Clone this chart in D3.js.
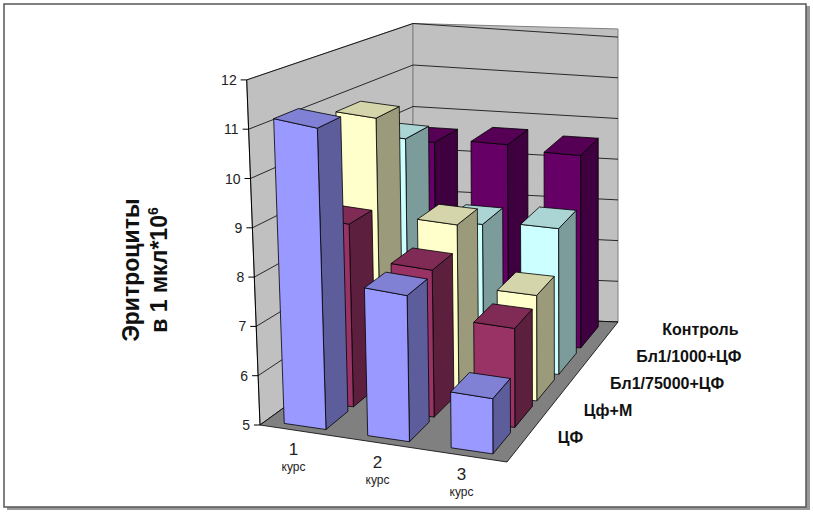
<!DOCTYPE html>
<html><head><meta charset="utf-8">
<script src="https://cdn.jsdelivr.net/npm/d3@7"></script>
<style>body{margin:0;background:#fff}svg{font-family:Arial,"Liberation Sans",sans-serif}</style>
</head><body><svg id="chart" width="813" height="513"></svg>
<script>
const categories = ['1', '2', '3']
const series = ['ЦФ', 'Цф+М', 'Бл1/75000+ЦФ', 'Бл1/1000+ЦФ', 'Контроль']
const colors = ['#9999FF', '#993366', '#FFFFCC', '#CCFFFF', '#660066']
const values = [
  [11.25, 8.1, 6.2],
  [8.9, 8.2, 7.2],
  [10.85, 8.75, 7.4],
  [10.05, 8.3, 8.4],
  [9.6, 9.7, 9.6]
]
const ticks = [5, 6, 7, 8, 9, 10, 11, 12]

const svg = d3.select('#chart')

// floor corners and vertical scale per unit at each corner
const FL = [260, 425], FR = [507, 462], BR = [618, 322], BL = [413, 314]
const hFL = 49.3, hFR = 46, hBR = 40.7, hBL = 41.5
const leanFL = -1.9

const yVal = d3.scaleLinear().domain([5, 12]).range([0, 7])
const uScale = d3.scaleBand().domain(categories).range([0, 1]).paddingInner(0.5).paddingOuter(0.22).align(0.5)
const vScale = d3.scaleBand().domain(series).range([0, 1]).padding(0.2)

function bil (a, b, c, d, u, v) {
  return (1 - u) * (1 - v) * a + u * (1 - v) * b + u * v * c + (1 - u) * v * d
}
function proj (u, v, val) {
  const bx = bil(FL[0], FR[0], BR[0], BL[0], u, v)
  const by = bil(FL[1], FR[1], BR[1], BL[1], u, v)
  const h = bil(hFL, hFR, hBR, hBL, u, v)
  const lean = bil(leanFL, 0, 0, 0, u, v)
  const t = yVal(val)
  return [bx + lean * t, by - h * t]
}
const poly = pts => pts.map(p => p.join(',')).join(' ')

// frame
svg.append('rect').attr('x', 7).attr('y', 6).attr('width', 803).attr('height', 504).attr('fill', '#999')
svg.append('rect').attr('x', 4).attr('y', 4).attr('width', 802).attr('height', 503)
  .attr('fill', '#fff').attr('stroke', '#555').attr('stroke-width', 1.5)

// walls
svg.append('polygon').attr('points', poly([proj(0, 0, 5), proj(0, 1, 5), proj(0, 1, 12), proj(0, 0, 12)]))
  .attr('fill', '#C0C0C0').attr('stroke', '#808080')
svg.append('polygon').attr('points', poly([proj(0, 1, 5), proj(1, 1, 5), proj(1, 1, 12.2), proj(0, 1, 12)]))
  .attr('fill', '#C0C0C0').attr('stroke', '#808080')
ticks.forEach(t => {
  svg.append('polyline').attr('points', poly([proj(0, 0, t), proj(0, 1, t), proj(1, 1, t)]))
    .attr('fill', 'none').attr('stroke', '#000').attr('stroke-width', 0.8)
  const p = proj(0, 0, t)
  svg.append('line').attr('x1', p[0] - 6).attr('y1', p[1]).attr('x2', p[0]).attr('y2', p[1]).attr('stroke', '#000')
  svg.append('text').attr('x', p[0] - 10).attr('y', p[1] + 5).attr('text-anchor', 'end')
    .attr('font-size', 14).attr('fill', '#222').text(t)
})
svg.append('line').attr('x1', proj(0, 0, 5)[0]).attr('y1', proj(0, 0, 5)[1])
  .attr('x2', proj(0, 0, 12)[0]).attr('y2', proj(0, 0, 12)[1]).attr('stroke', '#000')

// floor
svg.append('polygon').attr('points', poly([proj(0, 0, 5), proj(1, 0, 5), proj(1, 1, 5), proj(0, 1, 5)]))
  .attr('fill', '#808080').attr('stroke', '#000').attr('stroke-width', 0.8)

// bars, back to front
for (let j = series.length - 1; j >= 0; j--) {
  const v0 = vScale(series[j]), v1 = v0 + vScale.bandwidth()
  const base = d3.color(colors[j])
  categories.forEach((c, i) => {
    const u0 = uScale(c), u1 = u0 + uScale.bandwidth()
    const val = values[j][i]
    const g = svg.append('g').attr('stroke', '#000').attr('stroke-width', 0.8).attr('stroke-linejoin', 'round')
    g.append('polygon').attr('points', poly([proj(u1, v0, 5), proj(u1, v1, 5), proj(u1, v1, val), proj(u1, v0, val)]))
      .attr('fill', base.darker(1.4))
    g.append('polygon').attr('points', poly([proj(u0, v0, 5), proj(u1, v0, 5), proj(u1, v0, val), proj(u0, v0, val)]))
      .attr('fill', base)
    g.append('polygon').attr('points', poly([proj(u0, v0, val), proj(u1, v0, val), proj(u1, v1, val), proj(u0, v1, val)]))
      .attr('fill', base.darker(0.5))
  })
}

// category labels
categories.forEach(c => {
  const p = proj(uScale(c) + uScale.bandwidth() / 2, 0, 5)
  svg.append('text').attr('x', p[0] - 6).attr('y', p[1] + 24).attr('text-anchor', 'middle')
    .attr('font-size', 17).attr('fill', '#222').text(c)
  svg.append('text').attr('x', p[0] - 6).attr('y', p[1] + 40).attr('text-anchor', 'middle')
    .attr('font-size', 12).attr('fill', '#222').text('курс')
})

// series labels
series.forEach(s => {
  const v = vScale(s) + vScale.bandwidth() / 2
  const p = proj(1, v, 5)
  svg.append('text').attr('x', p[0] + 35 + 25 * v).attr('y', p[1] - 3).attr('font-size', 16)
    .attr('font-weight', 'bold').attr('fill', '#111').text(s)
})

// y title
const yt = svg.append('text').attr('transform', 'translate(145,270) rotate(-90)')
  .attr('text-anchor', 'middle').attr('font-size', 23).attr('font-weight', 'bold').attr('fill', '#111')
yt.append('tspan').attr('x', 0).attr('y', -6).text('Эритроциты')
yt.append('tspan').attr('x', 0).attr('y', 22).text('в 1 мкл*10')
yt.append('tspan').attr('dy', -9).attr('font-size', 14).text('6')
</script></body></html>
